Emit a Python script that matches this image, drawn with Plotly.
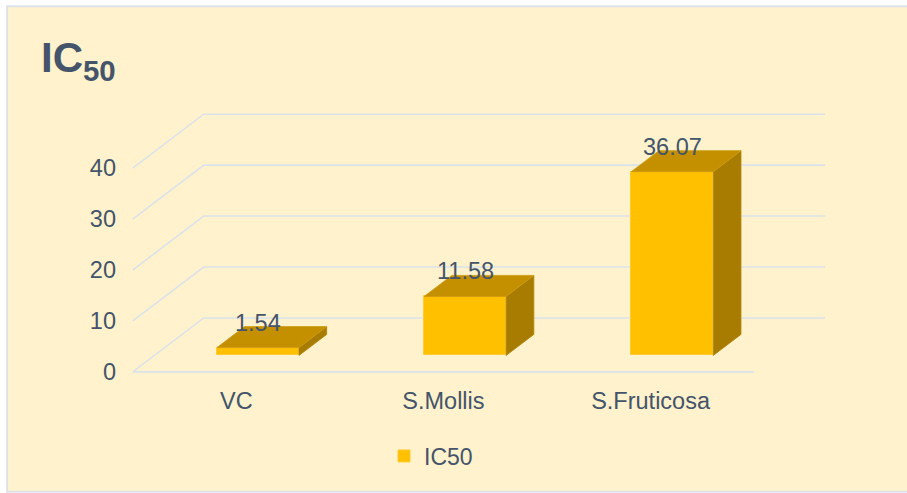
import plotly.graph_objects as go

# IC50 values per extract
categories = ['VC', 'S.Mollis', 'S.Fruticosa']
ic50 = [1.54, 11.58, 36.07]
ytick_vals = [0, 10, 20, 30, 40]
series_name = 'IC50'

txt = '#44546A'
font_family = 'Arial, Liberation Sans, sans-serif'
fsize = 23.5

# fake 3d: depth of the floor/back wall and of the bars (in data units)
DX, DY = 0.343, 10.59
f_front, f_depth = 0.305, 0.39
bar_w = 0.396

xs = list(range(len(categories)))
x0, x1 = -0.6, 2.9
y0, y1 = -1, 52

fig = go.Figure()

# side + top faces
for i, v in zip(xs, ic50):
    xl = i + f_front * DX - bar_w / 2
    xr = i + f_front * DX + bar_w / 2
    yb = f_front * DY
    yt = yb + v
    ddx, ddy = f_depth * DX, f_depth * DY
    fig.add_trace(go.Scatter(
        x=[xr, xr + ddx, xr + ddx, xr, xr],
        y=[yb, yb + ddy, yt + ddy, yt, yb],
        fill='toself', fillcolor='#A87C00', mode='lines',
        line=dict(color='#B08400', width=0.8),
        hoverinfo='skip', showlegend=False))
    fig.add_trace(go.Scatter(
        x=[xl, xr, xr + ddx, xl + ddx, xl],
        y=[yt, yt, yt + ddy, yt + ddy, yt],
        fill='toself', fillcolor='#C49000', mode='lines',
        line=dict(color='#CC9A10', width=0.8),
        hoverinfo='skip', showlegend=False))

# front faces
fig.add_trace(go.Bar(
    x=[i + f_front * DX for i in xs], y=ic50,
    base=[f_front * DY] * len(xs), width=bar_w,
    marker=dict(color='#FFC000', line=dict(color='#FFCB33', width=1)),
    name=series_name, showlegend=True))

# gridlines: front diagonal + back wall
shapes = []
grid = dict(color='#DCE2EA', width=1.6)
for v in ytick_vals:
    shapes.append(dict(type='path', xref='x', yref='y', layer='below',
                       path=f'M {-0.5},{v} L {-0.5 + DX},{v + DY} L {2.5 + DX},{v + DY}',
                       line=grid))
shapes.append(dict(type='line', xref='x', yref='y', layer='below',
                   x0=-0.5, y0=0, x1=2.5, y1=0, line=grid))

# chart area background with border
W, H = 907, 493
ml = 133 - 0.1 * 207
pw = 207 * (x1 - x0)
mr = W - ml - pw
ph = 5.1 * (y1 - y0)
mt = 372 - y1 * 5.1
mb = H - mt - ph


def px2paper_x(p):
    return (p - ml) / pw


def px2paper_y(p):
    return (H - mb - p) / ph


bx0, bx1 = px2paper_x(7.5), px2paper_x(907)
by0, by1 = px2paper_y(492), px2paper_y(6)
border = dict(color='#DEE2E8', width=2)
shapes[:0] = [
    dict(type='rect', xref='paper', yref='paper', layer='below',
         x0=bx0, x1=bx1, y0=by0, y1=by1, fillcolor='#FFF2CC', line=dict(width=0)),
    dict(type='path', xref='paper', yref='paper', layer='below',
         path=f'M {bx1},{by1} L {bx0},{by1} L {bx0},{by0} L {bx1},{by0}', line=border),
]

annotations = []
for i, v in zip(xs, ic50):
    annotations.append(dict(x=i + f_front * DX, y=f_front * DY + v, xref='x', yref='y',
                            text=f'{v:.2f}', showarrow=False, yshift=25,
                            font=dict(size=fsize, color=txt, family=font_family)))

fig.update_layout(
    width=W, height=H,
    paper_bgcolor='white', plot_bgcolor='rgba(0,0,0,0)',
    margin=dict(l=ml, r=mr, t=mt, b=mb, autoexpand=False),
    font=dict(family=font_family, color=txt, size=fsize),
    title=dict(text='<b>IC<sub>50</sub></b>', x=41 / W, xanchor='left', xref='container',
               y=1 - 43 / H, yanchor='top', yref='container',
               font=dict(size=42, color=txt, family=font_family)),
    xaxis=dict(range=[x0, x1], tickvals=xs, ticktext=categories, showgrid=False,
               zeroline=False, showline=False, ticks='outside', ticklen=3,
               tickcolor='rgba(0,0,0,0)'),
    yaxis=dict(range=[y0, y1], tickvals=ytick_vals, showgrid=False, zeroline=False,
               showline=False, ticks='', ticklabelstandoff=-5),
    legend=dict(orientation='h', x=384 / W, xanchor='left', xref='container',
                y=1 - 456 / H, yanchor='middle', yref='container',
                bgcolor='rgba(0,0,0,0)', font=dict(size=fsize - 0.5, color=txt)),
    shapes=shapes, annotations=annotations,
    bargap=0, showlegend=True,
)

fig.write_html('out.html', config={'displayModeBar': False},
               post_script="document.body.style.margin='0';")
